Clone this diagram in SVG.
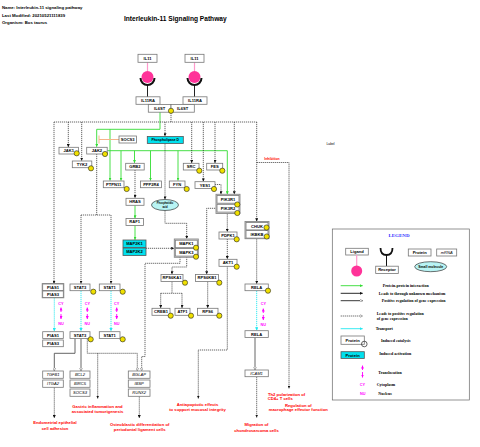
<svg xmlns="http://www.w3.org/2000/svg" width="480" height="447" viewBox="0 0 480 447">
<defs>
<style>
text{font-family:"Liberation Sans",Arial,sans-serif;font-weight:bold}
.hdr{font-size:4.3px;fill:#000}
.ttl{font-size:6.6px;fill:#000}
.lbl{font-size:4.1px;fill:#000;text-anchor:middle}
.it{font-style:italic;font-weight:normal}
.box{fill:#fff;stroke:#777;stroke-width:0.8}
.grp{fill:#e8e8e8;stroke:#888;stroke-width:0.9}
.cy{fill:#00e0ee;stroke:#555;stroke-width:0.8}
.mol{fill:#b8f4f4;stroke:#333;stroke-width:0.7}
.dot{fill:#f0e000;stroke:#222;stroke-width:0.6}
.out{font-size:4.2px;fill:#f00;text-anchor:middle}
.loc{font-size:3.8px;fill:#f0f;text-anchor:middle}
.dash{fill:none;stroke:#222;stroke-width:0.7;stroke-dasharray:1.2 0.8}
.grn{fill:none;stroke:#33dd33;stroke-width:0.9}
.cyl{fill:none;stroke:#22e8f0;stroke-width:0.9;stroke-dasharray:1.2 0.8}
.sol{fill:none;stroke:#555;stroke-width:0.9}
.mag{fill:none;stroke:#f0f;stroke-width:0.9}
.leg{font-family:"Liberation Serif","Times New Roman",serif;font-size:4px;fill:#000}
</style>
<marker id="ab" viewBox="0 0 6 6" refX="6" refY="3" markerWidth="3" markerHeight="3" markerUnits="userSpaceOnUse" orient="auto"><path d="M0,0L6,3L0,6z" fill="#111"/></marker>
<marker id="ag" viewBox="0 0 6 6" refX="6" refY="3" markerWidth="3" markerHeight="3" markerUnits="userSpaceOnUse" orient="auto"><path d="M0,0L6,3L0,6z" fill="#33dd33"/></marker>
<marker id="ac" viewBox="0 0 6 6" refX="6" refY="3" markerWidth="3.2" markerHeight="3.2" markerUnits="userSpaceOnUse" orient="auto"><path d="M0,0L6,3L0,6z" fill="#22e8f0"/></marker>
<marker id="am" viewBox="0 0 6 6" refX="6" refY="3" markerWidth="3" markerHeight="3" markerUnits="userSpaceOnUse" orient="auto"><path d="M0,0L6,3L0,6z" fill="#f0f"/></marker>
<marker id="ao" viewBox="0 0 8 8" refX="7.5" refY="4" markerWidth="3.4" markerHeight="3.4" markerUnits="userSpaceOnUse" orient="auto"><path d="M0.5,0.5L7.5,4L0.5,7.5z" fill="#fff" stroke="#555" stroke-width="1"/></marker>
</defs>
<rect width="480" height="447" fill="#fff"/>

<g id="header">
<text class="hdr" x="2" y="9">Name: Interleukin-11 signaling pathway</text>
<text class="hdr" x="2" y="16.7">Last Modified: 20210521111839</text>
<text class="hdr" x="2" y="24.3">Organism: Bos taurus</text>
<text class="ttl" x="124" y="21">Interleukin-11 Signaling Pathway</text>
<text x="326.5" y="144.5" style="font-size:3.3px;font-weight:normal">Label</text>
</g>

<g id="connectors">
<!-- ligand/receptor -->
<line x1="147.5" y1="62.3" x2="147.5" y2="71" stroke="#ff99cc" stroke-width="1.2"/>
<line x1="194.5" y1="62.3" x2="194.5" y2="71" stroke="#ff99cc" stroke-width="1.2"/>
<line x1="147.5" y1="84" x2="147.5" y2="97" stroke="#222" stroke-width="1"/>
<line x1="194.5" y1="84" x2="194.5" y2="97" stroke="#222" stroke-width="1"/>
<!-- green interactions -->
<polyline class="grn" points="160,112 160,129.3 96.7,129.3 96.7,146.8" marker-end="url(#ag)"/>
<line class="grn" x1="110" y1="129.3" x2="110" y2="180.6" marker-end="url(#ag)"/>
<polyline class="grn" points="107.3,150.7 227.3,150.7 227.3,194.3" marker-end="url(#ag)"/>
<line class="grn" x1="121" y1="150.7" x2="121" y2="180.6" marker-end="url(#ag)"/>
<line class="grn" x1="134.5" y1="150.7" x2="134.5" y2="162.9" marker-end="url(#ag)"/>
<line class="grn" x1="150.5" y1="150.7" x2="150.5" y2="180.6" marker-end="url(#ag)"/>
<line class="grn" x1="178" y1="150.7" x2="178" y2="180.6" marker-end="url(#ag)"/>
<line class="grn" x1="135" y1="205.5" x2="135" y2="218.3" marker-end="url(#ag)"/>
<line class="grn" x1="135" y1="225.5" x2="135" y2="239.8" marker-end="url(#ag)"/>
<!-- SOCS3 inhibition -->
<line x1="119" y1="139.5" x2="99" y2="139.5" stroke="#f5b48a" stroke-width="1"/>
<line x1="99" y1="135.5" x2="99" y2="143.5" stroke="#f5b48a" stroke-width="1"/>
<!-- dashed network -->
<line class="dash" x1="171" y1="111" x2="171" y2="122"/>
<line class="dash" x1="54" y1="122" x2="256.7" y2="122"/>
<line class="dash" x1="54" y1="122" x2="54" y2="283.7" marker-end="url(#ab)"/>
<line class="dash" x1="68.3" y1="122" x2="68.3" y2="147" marker-end="url(#ab)"/>
<line class="dash" x1="81.7" y1="122" x2="81.7" y2="160.7" marker-end="url(#ab)"/>
<line class="dash" x1="165" y1="122" x2="165" y2="136.3" marker-end="url(#ab)"/>
<line class="dash" x1="191.7" y1="122" x2="191.7" y2="163" marker-end="url(#ab)"/>
<line class="dash" x1="203.3" y1="122" x2="203.3" y2="181.4" marker-end="url(#ab)"/>
<line class="dash" x1="215" y1="122" x2="215" y2="163" marker-end="url(#ab)"/>
<line class="dash" x1="234.3" y1="122" x2="234.3" y2="194.3" marker-end="url(#ab)"/>
<line class="dash" x1="256.7" y1="122" x2="256.7" y2="221.3" marker-end="url(#ab)"/>
<polyline class="dash" points="256.7,162.5 289,162.5 289,388.5" marker-end="url(#ab)"/>
<line class="dash" x1="96.7" y1="154" x2="96.7" y2="215"/>
<line class="dash" x1="81" y1="215" x2="111" y2="215"/>
<line class="dash" x1="81" y1="215" x2="81" y2="283.7" marker-end="url(#ab)"/>
<line class="dash" x1="111" y1="215" x2="111" y2="283.7" marker-end="url(#ab)"/>
<line class="dash" x1="135" y1="170" x2="135" y2="198.1" marker-end="url(#ab)"/>
<polyline class="dash" points="215,184.5 221,184.5 221,194.3" marker-end="url(#ab)"/>
<line class="dash" x1="165" y1="143.5" x2="165" y2="199.4" marker-end="url(#ab)"/>
<polyline class="dash" points="165,210.5 165,223.3 186.7,223.3 186.7,238.8" marker-end="url(#ab)"/>
<line class="dash" x1="146" y1="248.3" x2="174.2" y2="248.3" marker-end="url(#ab)"/>
<polyline class="dash" points="186.7,257 186.7,267 172,267 172,274.3" marker-end="url(#ab)"/>
<polyline class="dash" points="180,257 180,263.3 145,263.3 145,356.5 141.7,356.5 141.7,370.8" marker-end="url(#ao)"/>
<line class="dash" x1="172" y1="281.5" x2="172" y2="293.3"/>
<line class="dash" x1="160.7" y1="293.3" x2="182" y2="293.3"/>
<line class="dash" x1="160.7" y1="293.3" x2="160.7" y2="308.1" marker-end="url(#ab)"/>
<line class="dash" x1="182" y1="293.3" x2="182" y2="308.1" marker-end="url(#ab)"/>
<polyline class="dash" points="217,208.3 206.7,208.3 206.7,274.3" marker-end="url(#ab)"/>
<line class="dash" x1="207.7" y1="281.5" x2="207.7" y2="308.1" marker-end="url(#ab)"/>
<line class="dash" x1="227.3" y1="213.5" x2="227.3" y2="231.8" marker-end="url(#ab)"/>
<line class="dash" x1="227.3" y1="239" x2="227.3" y2="259.1" marker-end="url(#ab)"/>
<polyline class="dash" points="227.3,266.3 227.3,350 198.3,350 198.3,398.5" marker-end="url(#ab)"/>
<line class="dash" x1="256.7" y1="238.5" x2="256.7" y2="283.8" marker-end="url(#ab)"/>
<line class="dash" x1="256.7" y1="376.7" x2="256.7" y2="417.5" marker-end="url(#ab)"/>
<polyline class="dash" points="87.3,338.5 87.3,353.3 137.3,353.3 137.3,370.8" marker-end="url(#ao)"/>
<line class="dash" x1="97.7" y1="353.3" x2="97.7" y2="398.5" marker-end="url(#ab)"/>
<line class="dash" x1="54.3" y1="387.5" x2="54.3" y2="418" marker-end="url(#ab)"/>
<line class="dash" x1="139.3" y1="396.5" x2="139.3" y2="418" marker-end="url(#ab)"/>
<!-- transport -->
<line class="cyl" x1="54.3" y1="297.5" x2="54.3" y2="331.3" marker-end="url(#ac)"/>
<line class="cyl" x1="81" y1="290.8" x2="81" y2="331.3" marker-end="url(#ac)"/>
<line class="cyl" x1="111" y1="290.8" x2="111" y2="331.3" marker-end="url(#ac)"/>
<line class="cyl" x1="256.7" y1="290.8" x2="256.7" y2="330.5" marker-end="url(#ac)"/>
<!-- gene regulation -->
<polyline class="sol" points="75,338.4 75,353.3 54.3,353.3 54.3,370.8" marker-end="url(#ao)"/>
<line class="sol" x1="81" y1="338.4" x2="81" y2="370.8" marker-end="url(#ao)"/>
<line class="sol" x1="255" y1="337.4" x2="255" y2="369.8" marker-end="url(#ao)"/>
<!-- translocation -->
<line class="mag" x1="61" y1="312" x2="61" y2="307.5" marker-end="url(#am)"/>
<line class="mag" x1="61" y1="314" x2="61" y2="319" marker-end="url(#am)"/>
<line class="mag" x1="87.3" y1="312" x2="87.3" y2="307.5" marker-end="url(#am)"/>
<line class="mag" x1="87.3" y1="314" x2="87.3" y2="319" marker-end="url(#am)"/>
<line class="mag" x1="116.7" y1="312" x2="116.7" y2="307.5" marker-end="url(#am)"/>
<line class="mag" x1="116.7" y1="314" x2="116.7" y2="319" marker-end="url(#am)"/>
<line class="mag" x1="263.3" y1="313" x2="263.3" y2="308.5" marker-end="url(#am)"/>
<line class="mag" x1="263.3" y1="315" x2="263.3" y2="320" marker-end="url(#am)"/>
</g>

<g id="ligands">
<g id="IL11_L"><rect class="box" x="138" y="54.3" width="19" height="8"/><text class="lbl" x="147.5" y="59.8">IL11</text>
<circle cx="147.5" cy="77" r="6" fill="#ff3399"/>
<path d="M140.5,78 A7,7 0 0 0 154.5,78" fill="none" stroke="#111" stroke-width="2"/></g>
<g id="IL11_R"><rect class="box" x="185" y="54.3" width="19" height="8"/><text class="lbl" x="194.5" y="59.8">IL11</text>
<circle cx="194.5" cy="77" r="6" fill="#ff3399"/>
<path d="M187.5,78 A7,7 0 0 0 201.5,78" fill="none" stroke="#111" stroke-width="2"/></g>
</g>

<g id="receptors">
<g id="IL11RA_L"><rect class="box" x="136" y="96.8" width="24" height="7.5"/><text class="lbl" x="148" y="102">IL11RA</text></g>
<g id="IL11RA_R"><rect class="box" x="183" y="96.8" width="24" height="7.5"/><text class="lbl" x="195" y="102">IL11RA</text></g>
<g id="IL6ST_L"><rect class="box" x="148.3" y="104.5" width="22.7" height="7.7"/><text class="lbl" x="159.6" y="109.8">IL6ST</text></g>
<g id="IL6ST_R"><rect class="box" x="171" y="104.5" width="23.3" height="7.7"/><text class="lbl" x="182.6" y="109.8">IL6ST</text></g>
<circle class="dot" cx="171" cy="110.8" r="2.6"/>
</g>

<g id="nodes">
<g id="PLD"><rect class="cy" x="147.3" y="136.5" width="36" height="7"/><text class="lbl" x="165.3" y="141.3" style="font-size:3.4px">Phospholipase D</text></g>
<g id="SOCS3a"><rect class="box" x="119" y="136" width="17.5" height="7"/><text class="lbl" x="127.7" y="140.9">SOCS3</text></g>
<g id="JAK1"><rect class="box" x="59" y="147.3" width="19.5" height="6.7"/><text class="lbl" x="68.7" y="152.1">JAK1</text><circle class="dot" cx="76.7" cy="153.3" r="2.6"/></g>
<g id="JAK2"><rect class="box" x="86.7" y="147.3" width="20.5" height="6.7"/><text class="lbl" x="96.9" y="152.1">JAK2</text><circle class="dot" cx="105" cy="154" r="2.6"/></g>
<g id="TYK2"><rect class="box" x="72.3" y="161" width="19.5" height="6.7"/><text class="lbl" x="82" y="165.8">TYK2</text><circle class="dot" cx="91" cy="168.3" r="2.6"/></g>
<g id="GRB2"><rect class="box" x="125.7" y="163.3" width="18.5" height="6.7"/><text class="lbl" x="134.9" y="168.1">GRB2</text></g>
<g id="PTPN11"><rect class="box" x="103.3" y="181" width="20.7" height="6.7"/><text class="lbl" x="113.6" y="185.8">PTPN11</text><circle class="dot" cx="126.7" cy="189" r="2.6"/></g>
<g id="PPP2R4"><rect class="box" x="140.5" y="181" width="21" height="6.7"/><text class="lbl" x="151" y="185.8">PPP2R4</text></g>
<g id="FYN"><rect class="box" x="169.3" y="181" width="15.7" height="6.7"/><text class="lbl" x="177.1" y="185.8">FYN</text><circle class="dot" cx="186.7" cy="189" r="2.6"/></g>
<g id="SRC"><rect class="box" x="183.3" y="163.3" width="15.7" height="6.7"/><text class="lbl" x="191.1" y="168.1">SRC</text><circle class="dot" cx="199.3" cy="170.7" r="2.6"/></g>
<g id="FES"><rect class="box" x="206.7" y="163.3" width="16" height="6.7"/><text class="lbl" x="214.7" y="168.1">FES</text><circle class="dot" cx="222.3" cy="170.7" r="2.6"/></g>
<g id="YES1"><rect class="box" x="195" y="181.7" width="20" height="6.7"/><text class="lbl" x="205" y="186.5">YES1</text><circle class="dot" cx="214" cy="189" r="2.6"/></g>
<g id="HRAS"><rect class="box" x="126" y="198.3" width="18" height="7"/><text class="lbl" x="135" y="203.2">HRAS</text></g>
<g id="RAF1"><rect class="box" x="126" y="218.5" width="17.5" height="7"/><text class="lbl" x="134.7" y="223.4">RAF1</text></g>
<g id="MAP2K"><rect class="cy" x="123" y="240" width="23" height="7.5"/><text class="lbl" x="134.5" y="245.2">MAP2K1</text>
<rect class="cy" x="123" y="248" width="23" height="7.5"/><text class="lbl" x="134.5" y="253.2">MAP2K2</text></g>
<g id="PA"><ellipse class="mol" cx="165" cy="205" rx="13.5" ry="5.5"/><text class="lbl" x="165" y="204.3" style="font-size:2.6px">Phosphatidic</text><text class="lbl" x="165" y="207.6" style="font-size:2.6px">acid</text></g>
<g id="MAPK"><rect class="grp" x="174.3" y="239" width="24" height="18.3"/>
<rect class="box" x="175.3" y="240.2" width="22" height="7.5"/><text class="lbl" x="186.3" y="245.4">MAPK1</text>
<rect class="box" x="175.3" y="248.6" width="22" height="7.5"/><text class="lbl" x="186.3" y="253.8">MAPK3</text>
<circle class="dot" cx="196" cy="247.7" r="2.6"/><circle class="dot" cx="196" cy="256.7" r="2.6"/></g>
<g id="PIK3R"><rect class="grp" x="216" y="194.3" width="24" height="19.2"/>
<rect class="box" x="217" y="195.4" width="22" height="7.8"/><text class="lbl" x="228" y="200.8">PIK3R1</text>
<rect class="box" x="217" y="204.3" width="22" height="7.8"/><text class="lbl" x="228" y="209.7">PIK3R2</text>
<circle class="dot" cx="237.3" cy="204.5" r="2.6"/><circle class="dot" cx="237.3" cy="213" r="2.6"/></g>
<g id="PDPK1"><rect class="box" x="219" y="232" width="18" height="7"/><text class="lbl" x="228" y="236.9">PDPK1</text><circle class="dot" cx="236.7" cy="239.3" r="2.6"/></g>
<g id="AKT1"><rect class="box" x="219" y="259.3" width="18" height="7"/><text class="lbl" x="228" y="264.2">AKT1</text><circle class="dot" cx="236.7" cy="266.7" r="2.6"/></g>
<g id="IKK"><rect class="grp" x="245" y="221.5" width="24" height="17.2"/>
<rect class="box" x="246" y="222.4" width="22" height="7.5"/><text class="lbl" x="257" y="227.6">CHUK</text>
<rect class="box" x="246" y="230.6" width="22" height="7.5"/><text class="lbl" x="257" y="235.8">IKBKB</text>
<circle class="dot" cx="266.5" cy="227.5" r="2.6"/><circle class="dot" cx="266.7" cy="236.5" r="2.6"/></g>
<g id="RPS6KA1"><rect class="box" x="161" y="274.5" width="22" height="7"/><text class="lbl" x="172" y="279.4">RPS6KA1</text><circle class="dot" cx="185" cy="282.7" r="2.6"/></g>
<g id="RPS6KB1"><rect class="box" x="195.5" y="274.5" width="23" height="7"/><text class="lbl" x="207" y="279.4">RPS6KB1</text><circle class="dot" cx="219.3" cy="282.7" r="2.6"/></g>
<g id="CREB1"><rect class="box" x="152" y="308.3" width="18" height="7"/><text class="lbl" x="161" y="313.2">CREB1</text><circle class="dot" cx="170.7" cy="315.7" r="2.6"/></g>
<g id="ATF1"><rect class="box" x="175" y="308.3" width="15" height="7"/><text class="lbl" x="182.5" y="313.2">ATF1</text><circle class="dot" cx="191" cy="315.7" r="2.6"/></g>
<g id="RPS6"><rect class="box" x="197.5" y="308.3" width="20.5" height="7"/><text class="lbl" x="207.7" y="313.2">RPS6</text><circle class="dot" cx="219.3" cy="315.7" r="2.6"/></g>
<g id="RELA_cy"><rect class="box" x="245" y="284" width="23.3" height="6.7"/><text class="lbl" x="256.6" y="288.8">RELA</text><circle class="dot" cx="268" cy="290.7" r="2.6"/></g>
<g id="RELA_nu"><rect class="box" x="245" y="330.7" width="23.3" height="6.7"/><text class="lbl" x="256.6" y="335.5">RELA</text></g>
<g id="ICAM1"><rect class="box" x="245" y="370" width="23.3" height="6.7"/><text class="lbl it" x="256.6" y="374.8">ICAM1</text></g>
<g id="PIAS_cy"><rect class="grp" x="42.2" y="283.6" width="21.6" height="14.2"/>
<rect class="box" x="42.7" y="284" width="20.6" height="6.6"/><text class="lbl" x="53" y="288.8">PIAS1</text>
<rect class="box" x="42.7" y="291" width="20.6" height="6.4"/><text class="lbl" x="53" y="295.7">PIAS3</text></g>
<g id="STAT3_cy"><rect class="box" x="70" y="284" width="20" height="6.7"/><text class="lbl" x="80" y="288.8">STAT3</text><circle class="dot" cx="93.3" cy="291.7" r="2.6"/></g>
<g id="STAT1_cy"><rect class="box" x="99.3" y="284" width="20.7" height="6.7"/><text class="lbl" x="109.6" y="288.8">STAT1</text><circle class="dot" cx="122.7" cy="291.7" r="2.6"/></g>
<g id="PIAS1_nu"><rect class="box" x="42.7" y="331.7" width="20.6" height="6.7"/><text class="lbl" x="53" y="336.5">PIAS1</text></g>
<g id="PIAS3_nu"><rect class="box" x="42.7" y="340" width="20.6" height="6.7"/><text class="lbl" x="53" y="344.8">PIAS3</text></g>
<g id="STAT3_nu"><rect class="box" x="70" y="331.7" width="20" height="6.7"/><text class="lbl" x="80" y="336.5">STAT3</text><circle class="dot" cx="90.7" cy="339.3" r="2.6"/></g>
<g id="STAT1_nu"><rect class="box" x="99.3" y="331.7" width="20.7" height="6.7"/><text class="lbl" x="109.6" y="336.5">STAT1</text><circle class="dot" cx="122.7" cy="339.3" r="2.6"/></g>
<g id="TGFB1"><rect class="box" x="42.7" y="371" width="20.6" height="7.3"/><text class="lbl it" x="53" y="376.1">TGFB1</text></g>
<g id="ITGA2"><rect class="box" x="42.7" y="380" width="20.6" height="7.3"/><text class="lbl it" x="53" y="385.1">ITGA2</text></g>
<g id="BCL2"><rect class="box" x="70" y="371" width="20" height="7.3"/><text class="lbl it" x="80" y="376.1">BCL2</text></g>
<g id="BIRC5"><rect class="box" x="70" y="380" width="20" height="7.3"/><text class="lbl it" x="80" y="385.1">BIRC5</text></g>
<g id="SOCS3b"><rect class="box" x="70" y="389" width="20" height="7.3"/><text class="lbl it" x="80" y="394.1">SOCS3</text></g>
<g id="BGLAP"><rect class="box" x="128.3" y="371" width="21.7" height="7.3"/><text class="lbl it" x="139.2" y="376.1">BGLAP</text></g>
<g id="IBSP"><rect class="box" x="128.3" y="380" width="21.7" height="7.3"/><text class="lbl it" x="139.2" y="385.1">IBSP</text></g>
<g id="RUNX2"><rect class="box" x="128.3" y="389" width="21.7" height="7.3"/><text class="lbl it" x="139.2" y="394.1">RUNX2</text></g>
</g>

<g id="compartments">
<text class="loc" x="61" y="304.7">CY</text><text class="loc" x="61" y="324.7">NU</text>
<text class="loc" x="87.3" y="304.7">CY</text><text class="loc" x="87.3" y="324.7">NU</text>
<text class="loc" x="116.7" y="304.7">CY</text><text class="loc" x="116.7" y="324.7">NU</text>
<text class="loc" x="263.3" y="305.4">CY</text><text class="loc" x="263.3" y="325.7">NU</text>
</g>

<g id="outcomes">
<text x="272" y="159.6" style="font-size:3.4px;fill:#f00;text-anchor:middle">Inhibition</text>
<text class="out" x="55" y="424.3">Endometrial epithelial</text><text class="out" x="55" y="429.7">cell adhesion</text>
<text class="out" x="97.5" y="407.5">Gastric inflammation and</text><text class="out" x="97.5" y="412.9">associated tumorigenesis</text>
<text class="out" x="139.7" y="425.5">Osteoblastic differentiation of</text><text class="out" x="139.7" y="430.9">periodontal ligament cells</text>
<text class="out" x="197.5" y="405.8">Antiapoptotic effects</text><text class="out" x="197.5" y="411.4">to support mucosal integrity</text>
<text class="out" x="256.5" y="426.4">Migration of</text><text class="out" x="256.5" y="432">chondrosarcoma cells</text>
<text class="out" x="268" y="395.5" style="text-anchor:start">Th2 polarization of</text><text class="out" x="267.7" y="399.6" style="text-anchor:start">CD4+ T cells</text>
<text class="out" x="298.3" y="406.5">Regulation of</text><text class="out" x="298.3" y="410.8">macrophage effector function</text>
</g>

<g id="legend">
<rect x="332.3" y="229" width="137" height="171" fill="#fff" stroke="#666" stroke-width="0.7"/>
<text x="399" y="236.7" style="font-family:'Liberation Serif','Times New Roman',serif;font-size:5px;fill:#3333ff;text-anchor:middle">LEGEND</text>
<rect class="box" x="345.7" y="248.3" width="22.6" height="6.7"/><text class="lbl" x="357" y="253.1">Ligand</text>
<line x1="356.7" y1="255" x2="356.7" y2="266" stroke="#ff99cc" stroke-width="1.2"/>
<circle cx="356.7" cy="271" r="5.5" fill="#ff3399"/>
<path d="M380.5,248 Q380.5,255 386.5,255 Q392.5,255 392.5,248" fill="none" stroke="#111" stroke-width="1.8"/>
<line x1="386.5" y1="255" x2="386.5" y2="266.2" stroke="#111" stroke-width="1"/>
<rect class="box" x="375.7" y="266.2" width="22.6" height="7.3"/><text class="lbl" x="387" y="271.3">Receptor</text>
<rect class="box" x="408.3" y="249" width="22.7" height="7"/><text class="lbl" x="419.7" y="253.9">Protein</text>
<rect class="box" x="436.7" y="249" width="20" height="7"/><text class="lbl it" x="446.7" y="253.9">mRNA</text>
<ellipse class="mol" cx="430.7" cy="266.7" rx="16" ry="5"/><text class="lbl" x="430.7" y="268" style="font-size:3.4px">Small molecule</text>
<line class="grn" x1="340.7" y1="285.7" x2="362.7" y2="285.7" marker-end="url(#ag)"/>
<text class="leg" x="382.7" y="287">Protein-protein interaction</text>
<line x1="340.7" y1="293.3" x2="362.7" y2="293.3" stroke="#111" stroke-width="0.9" marker-end="url(#ab)"/>
<text class="leg" x="378.7" y="294.6">Leads to through unknown mechanism</text>
<line x1="340.7" y1="300.7" x2="362.7" y2="300.7" stroke="#222" stroke-width="0.9" marker-end="url(#ao)"/>
<text class="leg" x="381.7" y="302">Positive regulation of gene expression</text>
<line class="dash" x1="340.7" y1="316" x2="362.7" y2="316" stroke="#777" marker-end="url(#ao)"/>
<text class="leg" x="376.7" y="315.3">Leads to positive regulation</text>
<text class="leg" x="376.7" y="319.6">of gene expression</text>
<line x1="340.7" y1="328.7" x2="362.7" y2="328.7" stroke="#22e8f0" stroke-width="0.9" marker-end="url(#ac)"/>
<text class="leg" x="375.7" y="330">Transport</text>
<rect class="box" x="341" y="336" width="23.3" height="8.3"/><text class="lbl" x="352.6" y="341.6">Protein</text>
<circle cx="364.3" cy="344" r="2.8" fill="none" stroke="#222" stroke-width="0.7"/>
<text class="leg" x="381" y="341.6">Induced catalysis</text>
<rect class="cy" x="341" y="351.7" width="23.3" height="6.7"/><text class="lbl" x="352.6" y="356.5">Protein</text>
<text class="leg" x="379.3" y="355.3">Induced activation</text>
<line class="mag" x1="362.5" y1="370" x2="362.5" y2="365.5" marker-end="url(#am)"/>
<line class="mag" x1="362.5" y1="372" x2="362.5" y2="377.5" marker-end="url(#am)"/>
<text class="leg" x="378.3" y="374">Translocation</text>
<text class="loc" x="362.5" y="386.3">CY</text><text class="leg" x="376.7" y="386.3">Cytoplasm</text>
<text class="loc" x="362.7" y="394.6">NU</text><text class="leg" x="378.3" y="394.6">Nucleus</text>
</g>
</svg>
